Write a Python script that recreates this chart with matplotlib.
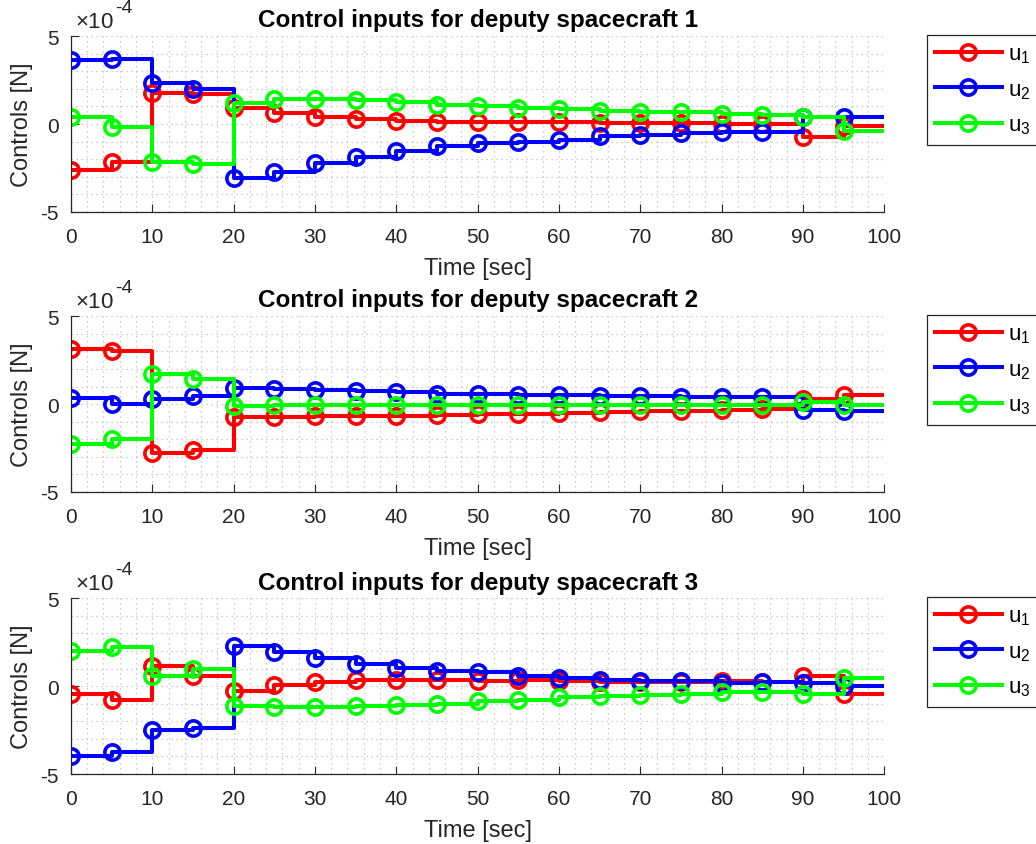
import numpy as np
import matplotlib
matplotlib.use("Agg")
import matplotlib.pyplot as plt
from matplotlib.ticker import MultipleLocator

plt.rcParams["font.family"] = ["Liberation Sans", "DejaVu Sans"]
plt.rcParams["axes.unicode_minus"] = False
plt.rcParams["mathtext.fontset"] = "custom"
plt.rcParams["mathtext.rm"] = "Liberation Sans"
plt.rcParams["mathtext.it"] = "Liberation Sans"

# sample times [sec]; controls in units of 1e-4 N
t = np.arange(0, 100, 5)
t_end = 100
scale = 1e-4

u1_sc1 = [-2.64, -2.17, 1.79, 1.70, 0.89, 0.62, 0.43, 0.28, 0.19, 0.13,
          0.09, 0.10, 0.09, 0.06, 0.06, 0.04, 0.03, 0.03, -0.75, -0.10]
u2_sc1 = [3.62, 3.72, 2.32, 2.02, -3.08, -2.70, -2.23, -1.89, -1.55, -1.26,
          -1.08, -1.04, -0.89, -0.70, -0.60, -0.53, -0.47, -0.43, 0.38, 0.43]
u3_sc1 = [0.38, -0.19, -2.17, -2.26, 1.19, 1.42, 1.42, 1.38, 1.23, 1.11,
          1.04, 0.94, 0.85, 0.74, 0.70, 0.66, 0.57, 0.51, 0.38, -0.40]

u1_sc2 = [3.15, 3.02, -2.79, -2.64, -0.74, -0.74, -0.70, -0.68, -0.65, -0.61,
          -0.57, -0.55, -0.49, -0.46, -0.38, -0.38, -0.34, -0.30, 0.30, 0.53]
u2_sc2 = [0.36, 0.02, 0.30, 0.44, 0.91, 0.87, 0.78, 0.72, 0.66, 0.59,
          0.57, 0.53, 0.49, 0.46, 0.46, 0.40, 0.40, 0.40, -0.36, -0.42]
u3_sc2 = [-2.26, -2.01, 1.69, 1.44, -0.11, -0.08, -0.08, -0.08, -0.08, -0.08,
          -0.08, -0.08, -0.08, -0.08, -0.08, -0.08, -0.08, -0.08, 0.11, -0.04]

u1_sc3 = [-0.45, -0.77, 1.13, 0.60, -0.26, 0.07, 0.26, 0.35, 0.37, 0.37,
          0.31, 0.37, 0.31, 0.22, 0.22, 0.22, 0.31, 0.22, 0.60, -0.45]
u2_sc3 = [-3.96, -3.73, -2.48, -2.40, 2.31, 1.96, 1.58, 1.26, 1.01, 0.88,
          0.79, 0.60, 0.46, 0.35, 0.31, 0.31, 0.18, 0.22, 0.16, -0.01]
u3_sc3 = [2.02, 2.20, 0.56, 0.98, -1.11, -1.20, -1.20, -1.15, -1.07, -1.02,
          -0.83, -0.77, -0.64, -0.58, -0.50, -0.45, -0.35, -0.35, -0.45, 0.46]

spacecraft = [(u1_sc1, u2_sc1, u3_sc1),
              (u1_sc2, u2_sc2, u3_sc2),
              (u1_sc3, u2_sc3, u3_sc3)]
labels = ["u$_1$", "u$_2$", "u$_3$"]
colors = ["#ff0000", "#0000ff", "#00ff00"]
yticks = [-5, 0, 5]

fig = plt.figure(figsize=(10.36, 8.45), dpi=100)
fig.patch.set_facecolor("white")
dark = "#262626"

bottoms = [0.748, 0.4166, 0.0828]
for k, (series, b) in enumerate(zip(spacecraft, bottoms)):
    ax = fig.add_axes([0.0685, b, 0.785, 0.208])
    tt = np.append(t, t_end)
    for u, lab, c in zip(series, labels, colors):
        uu = np.array(u) * scale
        ax.step(tt, np.append(uu, uu[-1]), where="post", color=c, lw=2.9,
                marker="o", markersize=11, mfc="none", mew=2.6,
                markevery=slice(0, len(t)), label=lab)
    ax.set_xlim(0, 100)
    ax.set_ylim(-5 * scale, 5 * scale)
    ax.set_xticks(np.arange(0, 101, 10))
    ax.set_yticks([v * scale for v in yticks])
    ax.set_yticklabels([str(v) for v in yticks])
    ax.xaxis.set_minor_locator(MultipleLocator(2))
    ax.yaxis.set_minor_locator(MultipleLocator(scale))

    # exponent label above the y axis
    ax.text(0.005, 1.05, r"$\times$10", transform=ax.transAxes,
            fontsize=16, color=dark, ha="left", va="baseline")
    ax.text(0.054, 1.14, "-4", transform=ax.transAxes,
            fontsize=14, color=dark, ha="left", va="baseline")

    ax.grid(True, which="both", color="#bdbdbd", linestyle=(0, (1, 3)), lw=0.9)
    ax.set_axisbelow(True)
    for s in ["top", "right"]:
        ax.spines[s].set_visible(False)
    for s in ["left", "bottom"]:
        ax.spines[s].set_color(dark)
        ax.spines[s].set_linewidth(0.9)
    ax.tick_params(which="major", direction="in", length=6, labelsize=15,
                   colors=dark)
    ax.tick_params(axis="x", pad=11)
    ax.tick_params(axis="y", pad=9)
    ax.tick_params(which="minor", length=0)
    ax.set_xlabel("Time [sec]", fontsize=17, color=dark, labelpad=8)
    ax.set_ylabel("Controls [N]", fontsize=17, color=dark, labelpad=5)
    ax.set_title(f"Control inputs for deputy spacecraft {k + 1}",
                 fontsize=17.5, fontweight="bold", pad=7)
    leg = ax.legend(loc="upper left", bbox_to_anchor=(1.052, 1.005), fontsize=16,
                    handlelength=3.0, handletextpad=0.28, labelspacing=0.62,
                    borderpad=0.38, borderaxespad=0,
                    frameon=True, fancybox=False, framealpha=1)
    leg.get_frame().set_edgecolor(dark)
    leg.get_frame().set_linewidth(0.9)

fig.savefig("out.png", dpi=100, facecolor="white")
